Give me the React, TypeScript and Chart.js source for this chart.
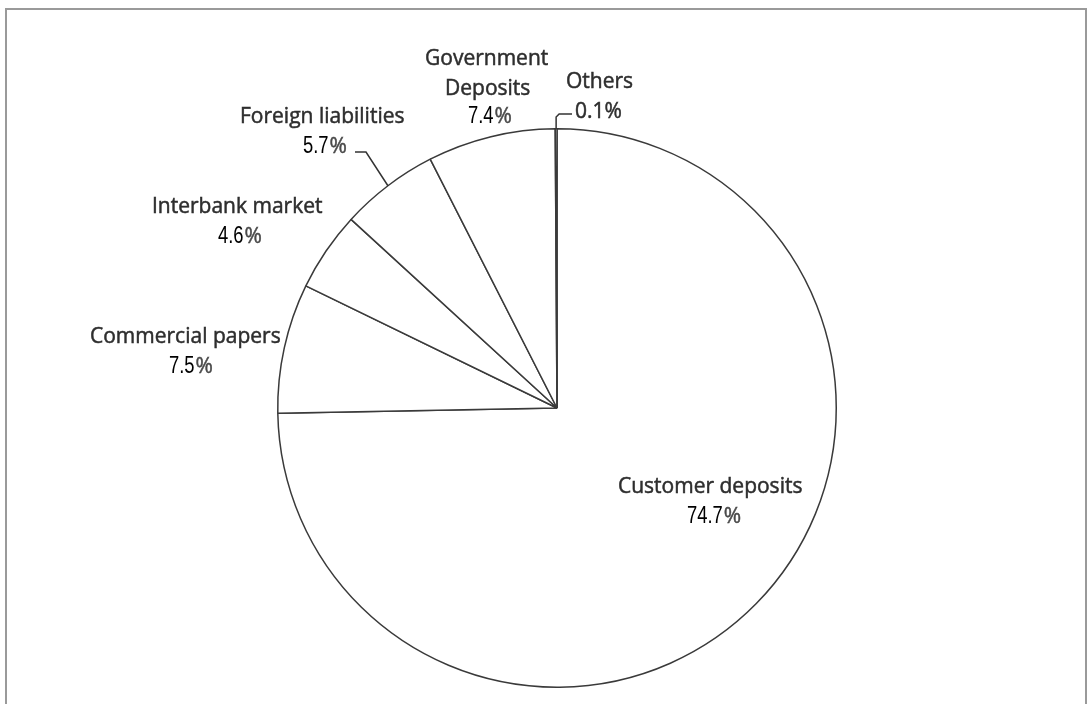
import React, { useEffect, useRef } from "react";
import { Chart, registerables } from "chart.js";

Chart.register(...registerables);

const categories = [
  "Customer deposits",
  "Commercial papers",
  "Interbank market",
  "Foreign liabilities",
  "Government Deposits",
  "Others",
];
const shares = [74.7, 7.5, 4.6, 5.7, 7.4, 0.1];
const shareLabels = ["74.7", "7.5", "4.6", "5.7", "7.4", "0.1"];

// label placement (annotation layout, not data)
const nameLines: string[][] = [
  ["Customer deposits"],
  ["Commercial papers"],
  ["Interbank market"],
  ["Foreign liabilities"],
  ["Government", "Deposits"],
  ["Others"],
];
const nameStarts: [number, number][][] = [
  [[618, 493]],
  [[90, 343]],
  [[152, 213]],
  [[240, 123]],
  [[425, 65], [445, 95]],
  [[566, 88]],
];
const pctStarts: [number, number][] = [
  [687, 523],
  [169, 373],
  [218, 243],
  [303, 153],
  [468, 123],
  [575, 118],
];

const NAME_FONT = '21px "Open Sans", "DejaVu Sans", sans-serif';
const DIGIT_FONT = '23px "Liberation Sans", Arial, sans-serif';

const drawName = (ctx: any, t: string, x: number, y: number, color: string) => {
  ctx.font = NAME_FONT;
  ctx.fillStyle = color;
  ctx.strokeStyle = color;
  ctx.lineWidth = 0.5;
  ctx.fillText(t, x, y);
  ctx.strokeText(t, x, y);
};

const labelPlugin = {
  id: "pieLabels",
  beforeDraw(chart: any) {
    const ctx = chart.ctx;
    ctx.save();
    ctx.fillStyle = "#fff";
    ctx.fillRect(0, 0, chart.width, chart.height);
    ctx.strokeStyle = "#9a9a9a";
    ctx.lineWidth = 2;
    ctx.strokeRect(6, 9, 1080, 720);
    ctx.restore();
  },
  afterDraw(chart: any) {
    const ctx = chart.ctx;
    const arcs = chart.getDatasetMeta(0).data;
    ctx.save();
    ctx.textBaseline = "alphabetic";
    ctx.textAlign = "left";
    nameLines.forEach((lines, i) => {
      lines.forEach((t, j) => {
        const [x, y] = nameStarts[i][j];
        drawName(ctx, t, x, y, "#2e2e2e");
      });
    });
    shareLabels.forEach((v, i) => {
      const [x, y] = pctStarts[i];
      if (i === 5) {
        drawName(ctx, v + "%", x, y, "#2e2e2e");
        return;
      }
      ctx.save();
      ctx.font = DIGIT_FONT;
      ctx.fillStyle = "#000";
      ctx.translate(x, y);
      ctx.scale(0.8, 1);
      ctx.fillText(v, 0, 0);
      const w = ctx.measureText(v).width * 0.8;
      ctx.restore();
      drawName(ctx, "%", x + w + 1, y, "#4a4a4a");
    });
    ctx.strokeStyle = "#333";
    ctx.lineWidth = 1.5;
    const edge = (i: number) => {
      const a = arcs[i];
      const mid = (a.startAngle + a.endAngle) / 2;
      return [a.x + a.outerRadius * Math.cos(mid), a.y + a.outerRadius * Math.sin(mid)];
    };
    const [ox, oy] = edge(5);
    ctx.beginPath();
    ctx.moveTo(ox, oy);
    ctx.lineTo(ox, 117);
    ctx.lineTo(ox + 3, 114);
    ctx.lineTo(572, 114);
    ctx.stroke();
    const [fx, fy] = edge(3);
    ctx.beginPath();
    ctx.moveTo(355, 152);
    ctx.lineTo(366, 152);
    ctx.lineTo(fx, fy);
    ctx.stroke();
    ctx.restore();
  },
};

export default function App() {
  const ref = useRef<HTMLCanvasElement>(null);
  useEffect(() => {
    document.body.style.margin = "0";
    const chart = new Chart(ref.current!, {
      type: "pie",
      data: {
        labels: categories,
        datasets: [
          {
            data: shares,
            backgroundColor: "#ffffff",
            borderColor: "#3a3a3a",
            borderWidth: 1.5,
          },
        ],
      },
      options: {
        responsive: false,
        animation: false,
        layout: { padding: { left: 277, right: 251, top: 127, bottom: 15 } },
        plugins: { legend: { display: false }, tooltip: { enabled: false } },
      },
      plugins: [labelPlugin],
    });
    return () => chart.destroy();
  }, []);
  return (
    <div style={{ position: "fixed", left: 0, top: 0, width: 1088, height: 704 }}>
      <canvas ref={ref} width={1088} height={704} />
    </div>
  );
}
